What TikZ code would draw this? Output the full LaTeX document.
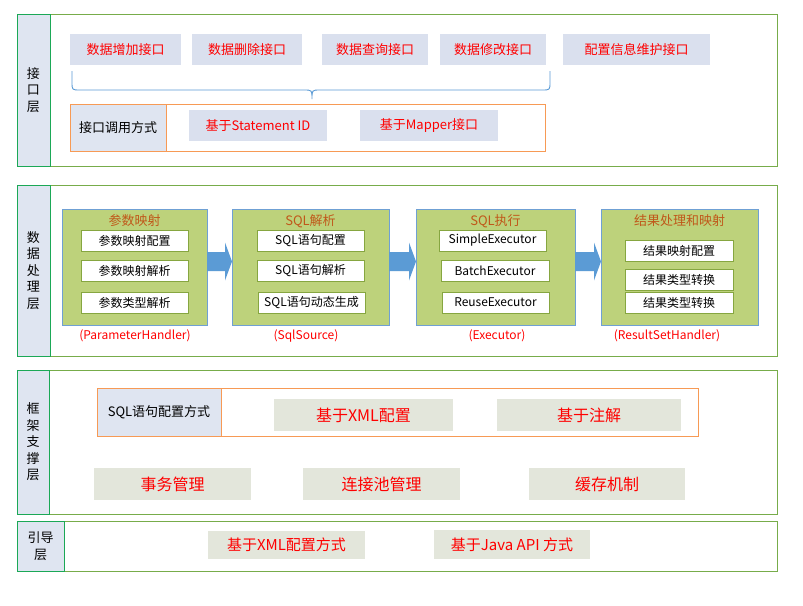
\documentclass[tikz,border=0pt]{standalone}
\usepackage{fontspec}
\setmainfont{Noto Sans CJK SC}
\usetikzlibrary{calc,positioning}

\definecolor{framegreen}{HTML}{77AC4A}
\definecolor{taggreen}{HTML}{1BA856}
\definecolor{tagfill}{HTML}{DFE5F1}
\definecolor{ifacefill}{HTML}{DAE0EE}
\definecolor{orangeline}{HTML}{F79A55}
\definecolor{stagefill}{HTML}{BDD27B}
\definecolor{stageline}{HTML}{6FA0D4}
\definecolor{itemline}{HTML}{86A640}
\definecolor{titlecol}{HTML}{C0581A}
\definecolor{grayfill}{HTML}{E3E6DB}
\definecolor{flowblue}{HTML}{5B9BD5}

\tikzset{
  wh/.style 2 args={minimum width=#1pt,minimum height=#2pt},
  every node/.style={anchor=north west,inner sep=0pt,outer sep=0pt},
  layer/.style={draw=framegreen,line width=0.8pt},
  tag/.style={draw=taggreen,fill=tagfill,line width=0.8pt,align=center,
    font=\fontsize{13}{16.5}\selectfont},
  iface/.style={fill=ifacefill,text=red,font=\fontsize{13}{15}\selectfont},
  way/.style={draw=orangeline,line width=0.8pt},
  waytag/.style={draw=orangeline,fill=tagfill,line width=0.8pt,
    font=\fontsize{13}{15}\selectfont},
  stage/.style={draw=stageline,fill=stagefill,line width=0.8pt},
  stagetitle/.style={anchor=north,text=titlecol,font=\fontsize{13}{15}\selectfont},
  item/.style={draw=itemline,fill=white,line width=0.8pt,
    font=\fontsize{12}{14}\selectfont},
  handler/.style={anchor=center,text=red,font=\fontsize{12}{14}\selectfont},
  base/.style={fill=grayfill,text=red,font=\fontsize{16}{18}\selectfont},
  boot/.style={fill=grayfill,text=red,font=\fontsize{15}{17}\selectfont},
  flow/.style={fill=flowblue},
  brace/.style={draw=flowblue,line width=0.9pt}
}

\begin{document}
\begin{tikzpicture}[x=1pt,y=-1pt]
  \useasboundingbox[fill=white] (0,0) rectangle (803,605);

  % interface layer
  \node[layer,wh={760}{152}] (L1) at (17,14) {};
  \node[tag,wh={33}{152}] (L1t) at (17,14) {接\\口\\层};
  \node[iface,wh={111}{31}] (add) at (70,34) {数据增加接口};
  \node[iface,wh={110}{31}] (del) at (192,34) {数据删除接口};
  \node[iface,wh={106}{31}] (query) at (322,34) {数据查询接口};
  \node[iface,wh={106}{31}] (update) at (440,34) {数据修改接口};
  \node[iface,wh={147}{31}] (conf) at (563,34) {配置信息维护接口};
  \draw[brace] (72,71) -- (72,82) .. controls (72,90) .. (80,90) -- (304,90)
    .. controls (312,90) .. (312,99) .. controls (312,90) .. (320,90) -- (542,90)
    .. controls (550,90) .. (550,82) -- (550,71); % brace under the calls
  \node[way,wh={475}{47}] (call) at (70,104) {};
  \node[waytag,wh={96}{47}] (callt) at (70,104) {接口调用方式};
  \node[iface,wh={138}{31}] (byid) at (189,110) {基于Statement ID};
  \node[iface,wh={138}{31}] (bymapper) at (360,110) {基于Mapper接口};

  % data processing layer
  \node[layer,wh={760}{171}] (L2) at (17,185) {};
  \node[tag,wh={33}{171}] (L2t) at (17,185) {数\\据\\处\\理\\层};
  \node[stage,wh={145}{116}] (pmap) at (62,209) {};
  \node[stage,wh={157}{116}] (sqlp) at (232,209) {};
  \node[stage,wh={159}{116}] (exec) at (416,209) {};
  \node[stage,wh={157}{116}] (rmap) at (601,209) {};
  \node[stagetitle,below=6pt of pmap.north] (pmapt) {参数映射};
  \node[stagetitle,below=6pt of sqlp.north] (sqlpt) {SQL解析};
  \node[stagetitle,below=6pt of exec.north] (exect) {SQL执行};
  \node[stagetitle,below=6pt of rmap.north] (rmapt) {结果处理和映射};

  \node[item,wh={107}{21}] (p1) at (81,230) {参数映射配置};
  \node[item,wh={107}{21}] (p2) at (81,260) {参数映射解析};
  \node[item,wh={107}{21}] (p3) at (81,292) {参数类型解析};
  \node[item,wh={107}{21}] (s1) at (257,230) {SQL语句配置};
  \node[item,wh={107}{21}] (s2) at (257,260) {SQL语句解析};
  \node[item,wh={107}{21}] (s3) at (258,292) {SQL语句动态生成};
  \node[item,wh={107}{21}] (e1) at (439,230) {SimpleExecutor};
  \node[item,wh={108}{21}] (e2) at (441,260) {BatchExecutor};
  \node[item,wh={107}{21}] (e3) at (442,292) {ReuseExecutor};
  \node[item,wh={108}{21}] (r1) at (625,240) {结果映射配置};
  \node[item,wh={108}{21}] (r2) at (625,269) {结果类型转换};
  \node[item,wh={108}{21}] (r3) at (625,292) {结果类型转换};

  \foreach \a/\b in {pmap/sqlp,sqlp/exec,exec/rmap} % block arrows between stages
    \fill[flow] ($(\a.east)+(0,-15)$) -- ($(\b.west)+(-7,-15)$) -- ($(\b.west)+(-7,-24.5)$)
      -- ($(\b.west)+(0,-5.5)$) -- ($(\b.west)+(-7,13.5)$) -- ($(\b.west)+(-7,4)$)
      -- ($(\a.east)+(0,4)$) -- cycle;

  \node[handler] (pmaph) at (135,336) {(ParameterHandler)};
  \node[handler] (sqlph) at (306,336) {(SqlSource)};
  \node[handler] (exech) at (497,336) {(Executor)};
  \node[handler] (rmaph) at (667,336) {(ResultSetHandler)};

  % framework support layer
  \node[layer,wh={760}{144}] (L3) at (17,370) {};
  \node[tag,wh={32}{144}] (L3t) at (17,370) {框\\架\\支\\撑\\层};
  \node[way,wh={601}{48}] (sqlcfg) at (97,388) {};
  \node[waytag,wh={124}{48}] (sqlcfgt) at (97,388) {SQL语句配置方式};
  \node[base,wh={179}{32}] (byxml) at (274,399) {基于XML配置};
  \node[base,wh={184}{32}] (bynote) at (497,399) {基于注解};
  \node[base,wh={157}{32}] (tx) at (94,468) {事务管理};
  \node[base,wh={157}{32}] (pool) at (303,468) {连接池管理};
  \node[base,wh={156}{32}] (cache) at (529,468) {缓存机制};

  % boot layer
  \node[layer,wh={760}{50}] (L4) at (17,521) {};
  \node[tag,wh={47}{50}] (L4t) at (17,521) {引导\\层};
  \node[boot,wh={157}{28}] (bootxml) at (208,531) {基于XML配置方式};
  \node[boot,wh={156}{29}] (bootapi) at (434,530) {基于Java API 方式};
\end{tikzpicture}
\end{document}
